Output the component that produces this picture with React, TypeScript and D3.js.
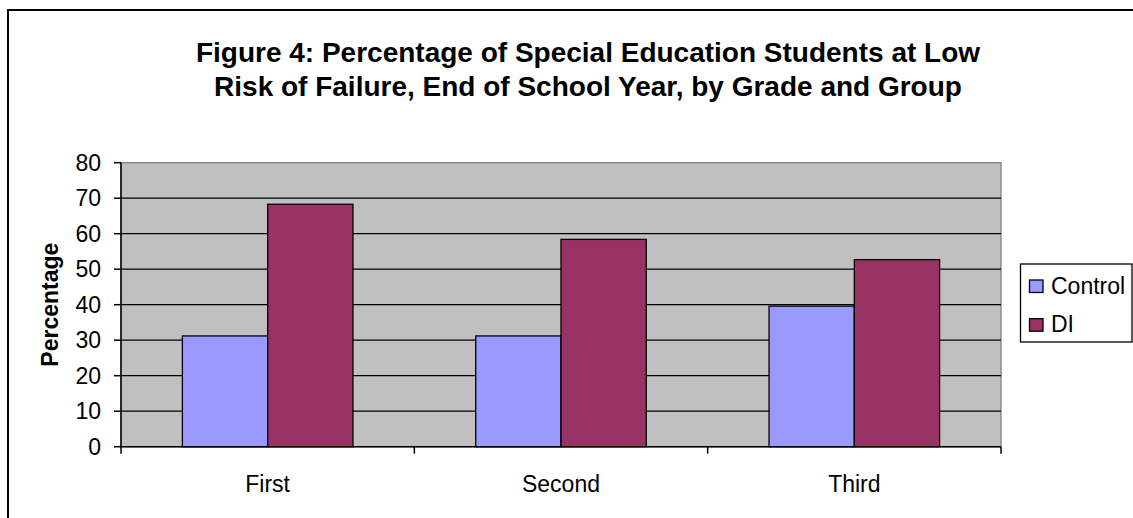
import React from "react";
import * as d3 from "d3";

const categories = ["First", "Second", "Third"];
const seriesNames = ["Control", "DI"];
const controlValues = [31.2, 31.2, 39.6];
const diValues = [68.3, 58.4, 52.7];
const yTicks = [0, 10, 20, 30, 40, 50, 60, 70, 80];
const titleLines = [
  "Figure 4: Percentage of Special Education Students at Low",
  "Risk of Failure, End of School Year, by Grade and Group",
];
const colors = ["#9999FF", "#993366"];

const W = 1133;
const H = 518;
const FONT = "'Liberation Sans', Arial, Helvetica, sans-serif";

export default function App() {
  const plot = { left: 121, right: 1001, top: 162.7, bottom: 446.7 };
  const x0 = d3.scaleBand<string>().domain(categories).range([plot.left, plot.right]).paddingInner(0).paddingOuter(0);
  const x1 = d3.scaleBand<string>().domain(seriesNames).range([0, x0.bandwidth()]).paddingInner(0).paddingOuter(0.72);
  const y = d3.scaleLinear().domain([0, 80]).range([plot.bottom, plot.top]);
  const seriesValues = [controlValues, diValues];
  const boundaries = [...categories.map((c) => x0(c)!), plot.right];

  return (
    <svg width={W} height={H} style={{ position: "absolute", left: 0, top: 0, background: "#fff" }} fontFamily={FONT}>
      <rect x={8} y={10} width={1140} height={520} fill="#fff" stroke="#000" strokeWidth={2} />
      {titleLines.map((t, i) => (
        <text key={i} x={588} y={62 + i * 34} textAnchor="middle" fontSize={28} fontWeight="bold" fill="#000">
          {t}
        </text>
      ))}
      <rect x={plot.left} y={plot.top} width={plot.right - plot.left} height={plot.bottom - plot.top} fill="#C0C0C0" stroke="#808080" strokeWidth={1.3} />
      {yTicks.filter((t) => t > 0 && t < 80).map((t) => (
        <line key={t} x1={plot.left} x2={plot.right} y1={y(t)} y2={y(t)} stroke="#000" strokeWidth={1.3} />
      ))}
      {categories.map((c, ci) =>
        seriesNames.map((s, si) => (
          <rect
            key={c + s}
            x={x0(c)! + x1(s)!}
            y={y(seriesValues[si][ci])}
            width={x1.bandwidth()}
            height={y(0) - y(seriesValues[si][ci])}
            fill={colors[si]}
            stroke="#000"
            strokeWidth={1.3}
          />
        ))
      )}
      <line x1={plot.left} x2={plot.left} y1={plot.top} y2={plot.bottom} stroke="#000" strokeWidth={1.5} />
      <line x1={plot.left} x2={plot.right} y1={plot.bottom} y2={plot.bottom} stroke="#000" strokeWidth={1.5} />
      {yTicks.map((t) => (
        <g key={t}>
          <line x1={plot.left - 7} x2={plot.left} y1={y(t)} y2={y(t)} stroke="#000" strokeWidth={1.5} />
          <text x={101} y={y(t)} dy="0.36em" textAnchor="end" fontSize={23} fill="#000">
            {t}
          </text>
        </g>
      ))}
      {boundaries.map((b, i) => (
        <line key={i} x1={b} x2={b} y1={plot.bottom} y2={plot.bottom + 7} stroke="#000" strokeWidth={1.5} />
      ))}
      {categories.map((c) => (
        <text key={c} x={x0(c)! + x0.bandwidth() / 2} y={491.5} textAnchor="middle" fontSize={23} fill="#000">
          {c}
        </text>
      ))}
      <text transform={`translate(58, ${(plot.top + plot.bottom) / 2}) rotate(-90)`} textAnchor="middle" fontSize={23} fontWeight="bold" fill="#000">
        Percentage
      </text>
      <rect x={1020.5} y={264} width={111.5} height={78} fill="#fff" stroke="#000" strokeWidth={1.3} />
      {seriesNames.map((s, i) => (
        <g key={s}>
          <rect x={1029.5} y={280 + i * 38.7} width={13.5} height={12.5} fill={colors[i]} stroke="#000" strokeWidth={1.3} />
          <text x={1051} y={294 + i * 38} fontSize={23} fill="#000">
            {s}
          </text>
        </g>
      ))}
    </svg>
  );
}
